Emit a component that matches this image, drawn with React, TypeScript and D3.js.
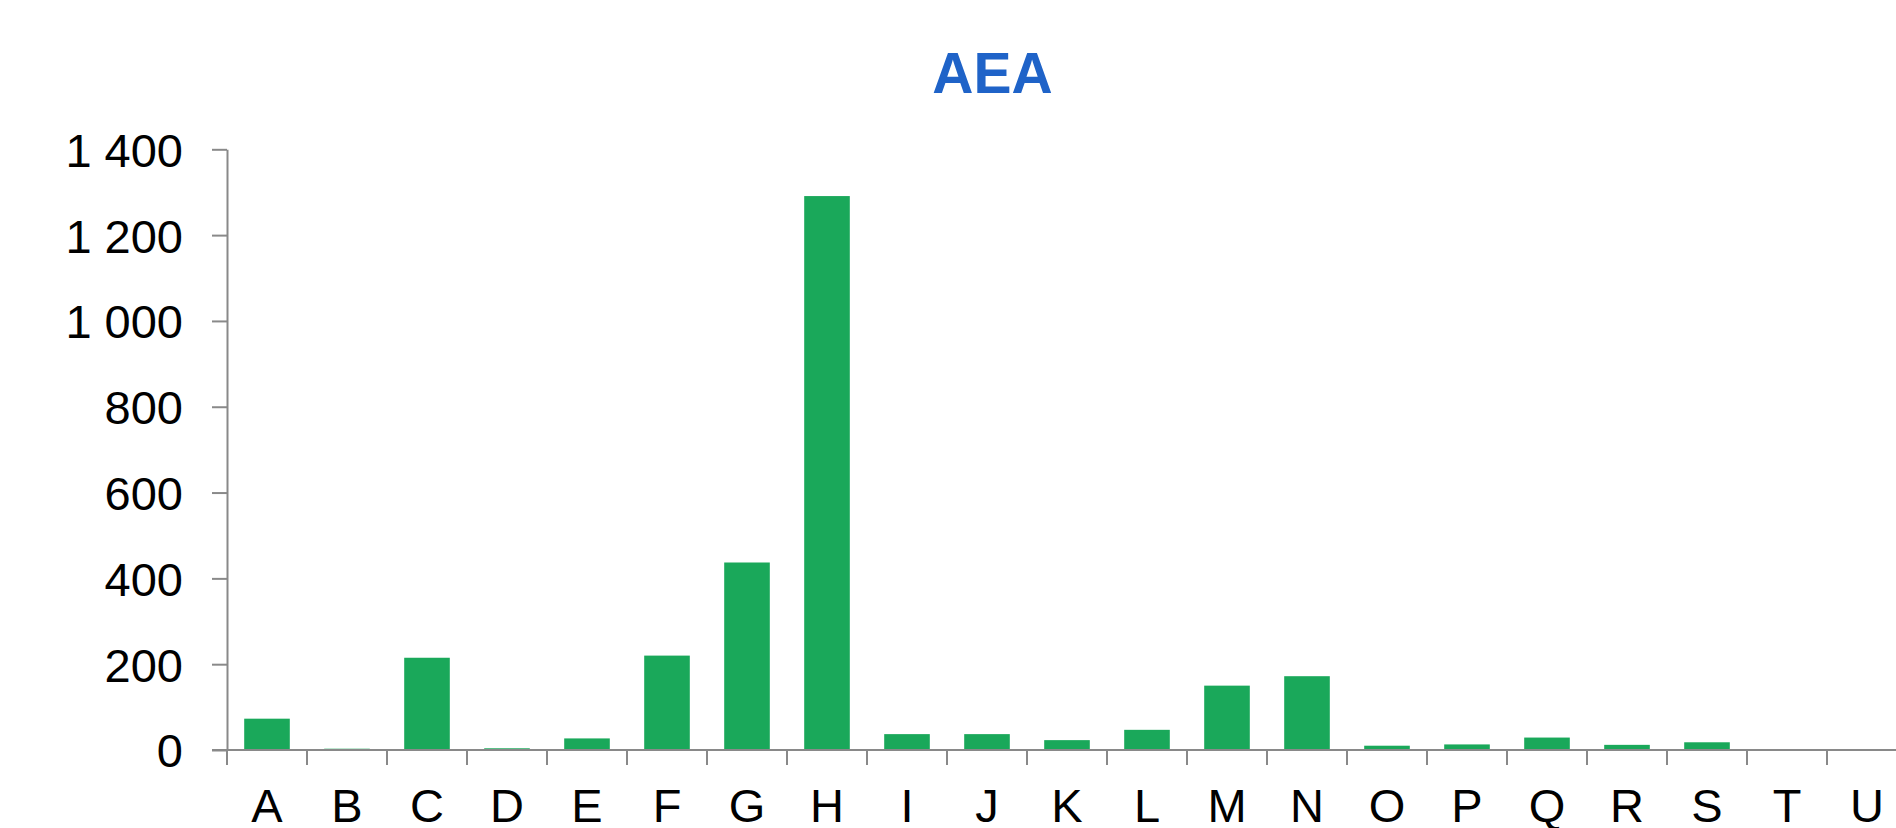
import React, { useEffect, useRef } from "react"
import * as d3 from "d3"

const categories = [
  "A", "B", "C", "D", "E", "F", "G", "H", "I", "J", "K",
  "L", "M", "N", "O", "P", "Q", "R", "S", "T", "U"
]
const values = [
  73, 3, 215, 4, 27, 220, 437, 1291, 37, 37, 23,
  47, 150, 172, 10, 13, 29, 12, 18, 0, 0
]
const yTicks = [ 0, 200, 400, 600, 800, 1000, 1200, 1400 ]
const title = "AEA"

export default function App() {
  const ref = useRef<SVGSVGElement>( null )

  useEffect( () => {
    const w = 1896
    const h = 828
    const left = 227
    const bottom = 750
    const top = 149.3
    const step = 80
    const font = "'Liberation Sans', Arial, sans-serif"
    const axisColor = "#898989"

    const svg = d3.select( ref.current )
    svg.selectAll( "*" ).remove()
    svg.attr( "width", w ).attr( "height", h )

    const xScale = d3
      .scaleBand()
      .domain( categories )
      .range( [ left, left + step * categories.length ] )
      .paddingInner( 0.43 )
      .paddingOuter( 0.215 )

    const yScale = d3
      .scaleLinear()
      .domain( [ 0, 1400 ] )
      .range( [ bottom, top ] )

    const fmt = d3.formatLocale( {
      decimal: ",",
      thousands: " ",
      grouping: [ 3 ],
      currency: [ "", "" ]
    } ).format( ",d" )

    // title
    svg
      .append( "text" )
      .attr( "x", 992.5 )
      .attr( "y", 92.7 )
      .attr( "text-anchor", "middle" )
      .attr( "font-family", font )
      .attr( "font-weight", "bold" )
      .attr( "font-size", 57 )
      .attr( "fill", "#1f63c8" )
      .text( title )

    // bars
    svg
      .selectAll( "rect.bar" )
      .data( values )
      .enter()
      .append( "rect" )
      .attr( "class", "bar" )
      .attr( "x", ( d, i ) => xScale( categories[ i ] ) as number )
      .attr( "y", d => yScale( d ) )
      .attr( "width", xScale.bandwidth() )
      .attr( "height", d => bottom - yScale( d ) )
      .attr( "fill", "#1aa85a" )

    // y axis
    const yAxis = svg
      .append( "g" )
      .attr( "transform", `translate(${ left },0)` )
      .call(
        d3
          .axisLeft( yScale )
          .tickValues( yTicks )
          .tickSize( 15 )
          .tickPadding( 29 )
          .tickSizeOuter( 0 )
          .tickFormat( d => fmt( d as number ) )
      )
    yAxis.select( ".domain" ).attr( "stroke", axisColor ).attr( "stroke-width", 2 )
    yAxis.selectAll( ".tick line" ).attr( "stroke", axisColor ).attr( "stroke-width", 2 )
    yAxis
      .selectAll( ".tick text" )
      .attr( "font-family", font )
      .attr( "font-size", 47 )
      .attr( "fill", "#000" )
      .attr( "dy", "0.36em" )

    // x axis: ticks on band boundaries
    const xAxis = svg.append( "g" )
    xAxis
      .append( "line" )
      .attr( "x1", left - 15 )
      .attr( "x2", w + 20 )
      .attr( "y1", bottom )
      .attr( "y2", bottom )
      .attr( "stroke", axisColor )
      .attr( "stroke-width", 2 )
    xAxis
      .selectAll( "line.sep" )
      .data( d3.range( categories.length + 1 ) )
      .enter()
      .append( "line" )
      .attr( "class", "sep" )
      .attr( "x1", i => left + i * xScale.step() )
      .attr( "x2", i => left + i * xScale.step() )
      .attr( "y1", bottom )
      .attr( "y2", bottom + 15 )
      .attr( "stroke", axisColor )
      .attr( "stroke-width", 2 )
    xAxis
      .selectAll( "text" )
      .data( categories )
      .enter()
      .append( "text" )
      .attr( "x", d => ( xScale( d ) as number ) + xScale.bandwidth() / 2 )
      .attr( "y", 822 )
      .attr( "text-anchor", "middle" )
      .attr( "font-family", font )
      .attr( "font-size", 47 )
      .attr( "fill", "#000" )
      .text( d => d )
  }, [] )

  return (
    <svg
      ref={ ref }
      style={ { position: "absolute", left: 0, top: 0, display: "block", background: "#fff" } }
    />
  )
}
